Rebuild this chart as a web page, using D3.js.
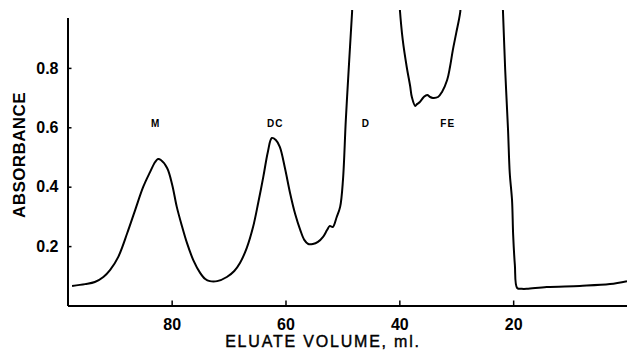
<!DOCTYPE html>
<html>
<head>
<meta charset="utf-8">
<script src="https://cdn.jsdelivr.net/npm/d3@7"></script>
<style>
  html, body { margin: 0; padding: 0; background: #fff; }
  svg { display: block; }
</style>
</head>
<body>
<svg id="chart" width="627" height="352"></svg>
<script>
// Eluate volume (ml) and absorbance
const volume = [
  97.5, 95.2, 93.5, 92.0, 90.8, 89.4, 87.8, 86.4, 85.0, 83.8, 82.9, 82.4, 81.9,
  80.8, 79.9, 79.1, 78.2, 77.3, 76.2, 75.0, 74.1, 73.3, 72.0, 70.3, 69.0, 68.0,
  66.8, 65.7, 64.8, 63.9, 63.1, 62.4, 61.7, 61.0, 60.1, 59.2, 58.3, 57.4, 56.7,
  56.0, 55.2, 54.3, 53.4, 52.7, 52.2, 51.7, 51.0, 50.4, 49.9, 49.4, 48.8, 48.3, 48.0,
  40.2, 39.9, 39.4, 38.7, 38.1, 37.8, 37.2, 36.9, 36.4, 35.7, 35.1, 34.6, 34.1,
  33.2, 32.5, 31.6, 31.1, 30.6, 30.0, 29.3, 28.8,
  22.1, 21.8, 21.4, 20.9, 20.6, 20.2, 20.0, 19.7, 19.3, 18.5, 17.6, 14.1, 8.3, 3.0, 0.0
];
const absorbance = [
  0.066, 0.072, 0.079, 0.096, 0.120, 0.163, 0.244, 0.322, 0.399, 0.449, 0.483, 0.493, 0.490,
  0.463, 0.406, 0.332, 0.268, 0.210, 0.153, 0.110, 0.089, 0.082, 0.082, 0.096, 0.116, 0.143,
  0.194, 0.264, 0.345, 0.433, 0.517, 0.564, 0.557, 0.534, 0.463, 0.379, 0.308, 0.254, 0.221,
  0.207, 0.207, 0.214, 0.231, 0.254, 0.268, 0.264, 0.298, 0.332, 0.423, 0.625, 0.827, 0.988, 1.096,
  1.096, 0.995, 0.894, 0.803, 0.739, 0.702, 0.672, 0.678, 0.685, 0.702, 0.709, 0.702, 0.699,
  0.702, 0.719, 0.759, 0.803, 0.860, 0.918, 0.988, 1.096,
  1.096, 0.995, 0.793, 0.591, 0.446, 0.355, 0.237, 0.136, 0.059, 0.056, 0.056, 0.062, 0.066, 0.072, 0.082
];
const xTicks = [80, 60, 40, 20];
const yTicks = [0.2, 0.4, 0.6, 0.8];
const peakNames = ["M", "DC", "D", "FE"];
const peakVolume = [82.8, 61.8, 45.9, 31.5];
const peakLabelLevel = 0.60;

const svg = d3.select("#chart");
const x = d3.scaleLinear().domain([98.3, 0]).range([67.5, 627]);
const y = d3.scaleLinear().domain([0, 0.97]).range([305.5, 17.4]);

const data = volume.map((v, i) => ({ v, a: absorbance[i] }));

svg.append("defs").append("clipPath").attr("id", "plotclip")
  .append("rect").attr("x", 67.5).attr("y", 10).attr("width", 560).attr("height", 296);

const line = d3.line()
  .x(d => x(d.v))
  .y(d => y(d.a))
  .curve(d3.curveCatmullRom.alpha(0.5));

svg.append("path")
  .datum(data)
  .attr("clip-path", "url(#plotclip)")
  .attr("fill", "none")
  .attr("stroke", "#000")
  .attr("stroke-width", 2)
  .attr("stroke-linejoin", "round")
  .attr("d", line);

// X axis
const gx = svg.append("g")
  .attr("transform", `translate(0,${y(0)})`)
  .call(d3.axisBottom(x).tickValues(xTicks).tickSize(-5).tickSizeOuter(0).tickPadding(13).tickFormat(d3.format("d")));
// Y axis
const gy = svg.append("g")
  .attr("transform", `translate(${x(98.3)},0)`)
  .call(d3.axisLeft(y).tickValues(yTicks).tickSize(-4).tickSizeOuter(0).tickPadding(9).tickFormat(d3.format(".1f")));

[gx, gy].forEach(g => {
  g.select(".domain").attr("stroke", "#000").attr("stroke-width", 2);
  g.selectAll(".tick line").attr("stroke", "#000").attr("stroke-width", 1.5);
  g.selectAll(".tick text")
    .attr("fill", "#000")
    .style("font-family", "'Liberation Sans', Arial, sans-serif")
    .style("font-size", "16px")
    .style("font-weight", "bold");
});

// Axis titles
svg.append("text")
  .attr("x", 323).attr("y", 347)
  .attr("text-anchor", "middle")
  .attr("stroke", "#000")
  .attr("stroke-width", 0.4)
  .style("font-family", "'Liberation Sans', Arial, sans-serif")
  .style("font-size", "16px")
  .style("letter-spacing", "1.8px")
  .text("ELUATE VOLUME, ml.");

svg.append("text")
  .attr("transform", "translate(25,155) rotate(-90)")
  .attr("text-anchor", "middle")
  .style("font-family", "'Liberation Sans', Arial, sans-serif")
  .style("font-size", "17px")
  .style("font-weight", "bold")
  .style("letter-spacing", "0.4px")
  .text("ABSORBANCE");

// Peak labels
svg.selectAll("text.peak")
  .data(peakNames)
  .enter().append("text")
  .attr("class", "peak")
  .attr("x", (d, i) => x(peakVolume[i]))
  .attr("y", y(peakLabelLevel))
  .attr("text-anchor", "middle")
  .style("font-family", "'Liberation Sans', Arial, sans-serif")
  .style("font-size", "10px")
  .style("font-weight", "bold")
  .style("letter-spacing", "1px")
  .text(d => d);
</script>
</body>
</html>
